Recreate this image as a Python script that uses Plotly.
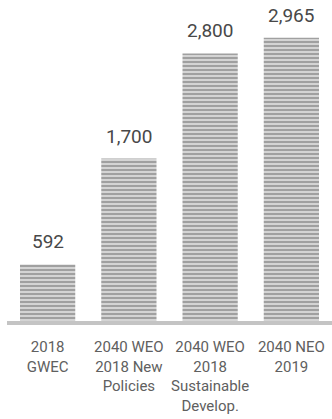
import plotly.graph_objects as go

categories = ["2018<br>GWEC", "2040 WEO<br>2018 New<br>Policies", "2040 WEO<br>2018<br>Sustainable<br>Develop.", "2040 NEO<br>2019"]
values = [592, 1700, 2800, 2965]
value_labels = ["592", "1,700", "2,800", "2,965"]

fig = go.Figure()
fig.add_trace(go.Bar(
    x=categories, y=values,
    marker=dict(
        color="#a4a4a4",
        line=dict(width=0),
        pattern=dict(shape="-", fgcolor="#a0a0a0", bgcolor="#dadada", size=4, solidity=0.55, fillmode="replace"),
    ),
    hoverinfo="skip",
))

for c, v, t in zip(categories, values, value_labels):
    fig.add_annotation(x=c, y=v, text=t, showarrow=False, yanchor="bottom", yshift=9,
                       font=dict(family="Roboto", size=19, color="#484848"))

fig.update_layout(
    width=332, height=419,
    margin=dict(l=7, r=0, t=20, b=98),
    paper_bgcolor="white", plot_bgcolor="white",
    bargap=0.32,
    showlegend=False,
    font=dict(family="Roboto", size=15, color="#606060"),
)
fig.update_xaxes(showline=True, linecolor="#c4c4c4", linewidth=4, ticks="", showgrid=False,
                 ticklabelstandoff=9,
                 tickfont=dict(family="Roboto", size=15, color="#606060"))
fig.update_yaxes(range=[0, 3150], visible=False, showgrid=False, zeroline=False)

fig.write_html("out.html")
